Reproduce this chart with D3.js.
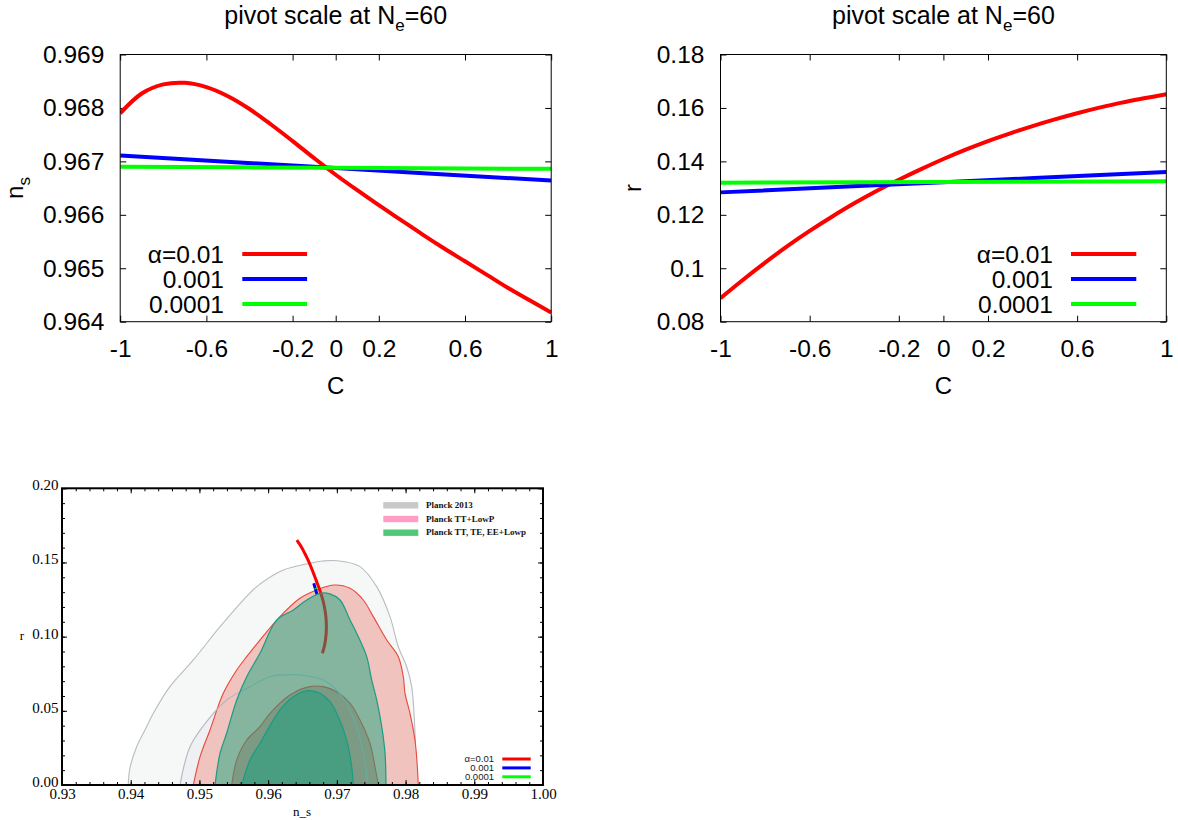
<!DOCTYPE html>
<html><head><meta charset="utf-8">
<script src="https://cdn.jsdelivr.net/npm/d3@7"></script>
<style>body{margin:0;background:#fff}svg{display:block}</style>
</head><body>
<svg id="c" width="1178" height="820"></svg>
<script>
// ---------------- DATA ----------------
const C_VALUES = [-1,-0.9,-0.8,-0.7,-0.6,-0.5,-0.4,-0.3,-0.2,-0.1,0,0.1,0.2,0.3,0.4,0.5,0.6,0.7,0.8,0.9,1];
const NS_ALPHA_001 = [0.96790,0.96827,0.96844,0.96847,0.96839,0.96822,0.96798,0.96769,0.96738,0.96706,0.96675,0.96646,0.96618,0.96591,0.96564,0.96538,0.96513,0.96488,0.96463,0.96440,0.96417];
const R_ALPHA_001 = [0.0888,0.0956,0.1021,0.1083,0.1140,0.1193,0.1243,0.1289,0.1331,0.1371,0.1409,0.1444,0.1476,0.1505,0.1532,0.1557,0.1580,0.1601,0.1620,0.1636,0.1651];
const C_LIN = [-1, 0, 1];
const NS_ALPHA_0001 = [0.96711, 0.966875, 0.96664];
const NS_ALPHA_00001 = [0.96690, 0.96688, 0.96686];
const R_ALPHA_0001 = [0.1284, 0.1322, 0.1360];
const R_ALPHA_00001 = [0.1320, 0.1323, 0.1326];
const SERIES_LABELS = ["\u03b1=0.01", "0.001", "0.0001"];

const C_TICKS = [-1,-0.6,-0.2,0,0.2,0.6,1];
const C_TICK_LABELS = ["-1","-0.6","-0.2","0","0.2","0.6","1"];
const NS_TICKS = [0.964,0.965,0.966,0.967,0.968,0.969];
const NS_TICK_LABELS = ["0.964","0.965","0.966","0.967","0.968","0.969"];
const R_TICKS = [0.08,0.10,0.12,0.14,0.16,0.18];
const R_TICK_LABELS = ["0.08","0.1","0.12","0.14","0.16","0.18"];

// Planck contours (n_s, r)
const PLANCK13_95 = [[0.93964,0],[0.93989,0.0115],[0.94087,0.0258],[0.94208,0.0371],[0.94329,0.0483],[0.94570,0.0663],[0.94911,0.0843],[0.95300,0.1067],[0.95638,0.1247],[0.95834,0.1337],[0.96221,0.1449],[0.96609,0.1495],[0.96800,0.1510],[0.96998,0.1512],[0.97337,0.1472],[0.97580,0.1337],[0.97773,0.1135],[0.97894,0.0932],[0.98016,0.0797],[0.98089,0.0663],[0.98137,0.0349],[0.98152,0]];
const PLANCK13_68 = [[0.94717,0],[0.94863,0.0258],[0.95105,0.0427],[0.95396,0.0573],[0.95736,0.0663],[0.96027,0.0730],[0.96318,0.0744],[0.96561,0.0735],[0.96803,0.0708],[0.96997,0.0640],[0.97143,0.0551],[0.97288,0.0393],[0.97385,0.0214],[0.97457,0]];
const TTLOWP_95 = [[0.94911,0],[0.95009,0.0191],[0.95154,0.0371],[0.95347,0.0618],[0.95543,0.0775],[0.95688,0.0865],[0.95881,0.0977],[0.96172,0.1135],[0.96463,0.1259],[0.96707,0.1315],[0.96963,0.1348],[0.97192,0.1326],[0.97385,0.1247],[0.97530,0.1135],[0.97726,0.0977],[0.97894,0.0865],[0.97967,0.0730],[0.97992,0.0618],[0.98064,0.0483],[0.98137,0.0303],[0.98171,0.0123],[0.98185,0]];
const TTLOWP_68 = [[0.95470,0],[0.95543,0.0169],[0.95688,0.0303],[0.95881,0.0393],[0.96027,0.0483],[0.96318,0.0607],[0.96609,0.0663],[0.96803,0.0663],[0.96997,0.0629],[0.97192,0.0551],[0.97337,0.0438],[0.97483,0.0281],[0.97555,0.0123],[0.97603,0]];
const TTTEEE_95 = [[0.95227,0],[0.95300,0.0214],[0.95396,0.0349],[0.95543,0.0573],[0.95688,0.0730],[0.95881,0.0888],[0.96125,0.1112],[0.96367,0.1180],[0.96561,0.1247],[0.96754,0.1292],[0.96900,0.1288],[0.97046,0.1247],[0.97192,0.1112],[0.97288,0.1023],[0.97434,0.0865],[0.97507,0.0708],[0.97580,0.0573],[0.97653,0.0393],[0.97701,0.0214],[0.97715,0]];
const TTTEEE_68 = [[0.95616,0],[0.95736,0.0169],[0.95881,0.0281],[0.96172,0.0506],[0.96367,0.0595],[0.96585,0.0636],[0.96754,0.0618],[0.96900,0.0562],[0.97021,0.0460],[0.97143,0.0303],[0.97216,0.0123],[0.97239,0]];
const CONTOUR_LABELS = ["Planck 2013", "Planck TT+LowP", "Planck TT, TE, EE+Lowp"];

const NSB_TICKS = [0.93,0.94,0.95,0.96,0.97,0.98,0.99,1.00];
const NSB_TICK_LABELS = ["0.93","0.94","0.95","0.96","0.97","0.98","0.99","1.00"];
const RB_TICKS = [0,0.05,0.10,0.15,0.20];
const RB_TICK_LABELS = ["0.00","0.05","0.10","0.15","0.20"];

// ---------------- STYLE ----------------
const LINE_COLORS = ["#ff0000", "#0000ff", "#00ff00"];
const SWATCH_COLORS = ["#c8c8c8", "#ff9ec2", "#50c878"];
const SANS = "'Liberation Sans', Arial, Helvetica, sans-serif";
const SERIF = "'Liberation Serif', 'Times New Roman', serif";

const svg = d3.select("#c");
svg.append("rect").attr("width",1178).attr("height",820).attr("fill","#fff");
const defs = svg.append("defs");

function styleAxis(sel, size, fam) {
  sel.select(".domain").remove();
  sel.selectAll(".tick line").attr("stroke","#000").attr("stroke-width",1);
  sel.selectAll(".tick text").attr("font-size",size).attr("font-family",fam).attr("fill","#000");
  sel.attr("font-size",null).attr("font-family",null);
}

function drawTop(o) {
  const g = svg.append("g");
  const x = d3.scaleLinear().domain([-1,1]).range([o.left,o.right]);
  const y = d3.scaleLinear().domain(o.yDomain).range([o.bottom,o.top]);
  defs.append("clipPath").attr("id",o.id).append("rect")
    .attr("x",o.left).attr("y",o.top).attr("width",o.right-o.left).attr("height",o.bottom-o.top);
  const FS = 24.5;

  g.append("g").attr("transform",`translate(0,${o.bottom})`)
    .call(d3.axisBottom(x).tickValues(C_TICKS).tickFormat((d,i)=>C_TICK_LABELS[i]).tickSizeInner(-6).tickSizeOuter(0).tickPadding(17.5))
    .call(s=>styleAxis(s,FS,SANS));
  g.append("g").attr("transform",`translate(0,${o.top})`)
    .call(d3.axisTop(x).tickValues(C_TICKS).tickFormat("").tickSizeInner(-6).tickSizeOuter(0))
    .call(s=>styleAxis(s,FS,SANS));
  g.append("g").attr("transform",`translate(${o.left},0)`)
    .call(d3.axisLeft(y).tickValues(o.yTicks).tickFormat((d,i)=>o.yLabels[i]).tickSizeInner(-6).tickSizeOuter(0).tickPadding(o.yPad))
    .call(s=>styleAxis(s,FS,SANS));
  g.append("g").attr("transform",`translate(${o.right},0)`)
    .call(d3.axisRight(y).tickValues(o.yTicks).tickFormat("").tickSizeInner(-6).tickSizeOuter(0))
    .call(s=>styleAxis(s,FS,SANS));

  const line = d3.line().x(d=>x(d[0])).y(d=>y(d[1])).curve(d3.curveCatmullRom);
  o.series.forEach((s,i)=>{
    g.append("path").datum(d3.zip(s.c,s.v)).attr("d",line)
      .attr("fill","none").attr("stroke",LINE_COLORS[i]).attr("stroke-width",4)
      .attr("clip-path",`url(#${o.id})`);
  });

  g.append("rect").attr("x",o.left).attr("y",o.top).attr("width",o.right-o.left).attr("height",o.bottom-o.top)
    .attr("fill","none").attr("stroke","#000").attr("stroke-width",1);

  // legend
  SERIES_LABELS.forEach((lab,i)=>{
    const yy = o.legY + i*25;
    g.append("text").attr("x",o.legTextX).attr("y",yy+8.8).attr("text-anchor","end")
      .attr("font-family",SANS).attr("font-size",FS).text(lab);
    g.append("line").attr("x1",o.legX1).attr("x2",o.legX2).attr("y1",yy).attr("y2",yy)
      .attr("stroke",LINE_COLORS[i]).attr("stroke-width",4);
  });

  // title
  const cx = (o.left+o.right)/2;
  const t = g.append("text").attr("x",cx).attr("y",24).attr("text-anchor","middle")
    .attr("font-family",SANS).attr("font-size",25);
  t.append("tspan").text("pivot scale at N");
  t.append("tspan").attr("font-size",17).attr("dy",7).text("e");
  t.append("tspan").attr("dy",-7).text("=60");

  // x label
  g.append("text").attr("x",cx).attr("y",393.5).attr("text-anchor","middle")
    .attr("font-family",SANS).attr("font-size",24).text("C");
  // y label
  const yl = g.append("text").attr("transform",`translate(${o.yLabX},188) rotate(-90)`)
    .attr("text-anchor","middle").attr("font-family",SANS).attr("font-size",24);
  yl.append("tspan").text(o.yName);
  if (o.ySub) yl.append("tspan").attr("font-size",17).attr("dy",7).text(o.ySub);
}

drawTop({id:"clipA", left:120.2, right:551.2, top:54.5, bottom:321.7,
  yDomain:[0.964,0.969], yTicks:NS_TICKS, yLabels:NS_TICK_LABELS, yPad:15.9,
  series:[{c:C_VALUES,v:NS_ALPHA_001},{c:C_LIN,v:NS_ALPHA_0001},{c:C_LIN,v:NS_ALPHA_00001}],
  legY:254, legTextX:224, legX1:242.3, legX2:307.1, yLabX:23, yName:"n", ySub:"s"});

drawTop({id:"clipB", left:720.5, right:1166.3, top:54.5, bottom:321.7,
  yDomain:[0.08,0.18], yTicks:R_TICKS, yLabels:R_TICK_LABELS, yPad:16.1,
  series:[{c:C_VALUES,v:R_ALPHA_001},{c:C_LIN,v:R_ALPHA_0001},{c:C_LIN,v:R_ALPHA_00001}],
  legY:254, legTextX:1053, legX1:1071, legX2:1136.3, yLabX:640.5, yName:"r", ySub:null});

// ---------------- bottom panel ----------------
(function(){
  const L=62, R=543, T=488.3, B=785;
  const x = d3.scaleLinear().domain([0.93,1.00]).range([L,R]);
  const y = d3.scaleLinear().domain([0,0.20]).range([B,T]);
  const g = svg.append("g");
  defs.append("clipPath").attr("id","clipC").append("rect").attr("x",L).attr("y",T).attr("width",R-L).attr("height",B-T);
  const pg = g.append("g").attr("clip-path","url(#clipC)");
  const cl = d3.line().x(d=>x(d[0])).y(d=>y(d[1])).curve(d3.curveCatmullRom);
  const closed = d => cl(d) + "Z";

  pg.append("path").attr("d",closed(PLANCK13_95)).attr("fill","#f6f7f7").attr("stroke","#b7bcc2").attr("stroke-width",1.1);
  pg.append("path").attr("d",closed(PLANCK13_68)).attr("fill","#eff0f4").attr("stroke","none");
  pg.append("path").attr("d",closed(TTLOWP_95)).attr("fill","#f1c3be").attr("stroke","#e8473b").attr("stroke-width",1.1);
  pg.append("path").attr("d",closed(TTLOWP_68)).attr("fill","#e0928b").attr("stroke","#e8473b").attr("stroke-width",1.1);
  pg.append("path").attr("d",closed(PLANCK13_68)).attr("fill","none").attr("stroke","#b4b8be").attr("stroke-width",1.1);

  // model tracks in the (n_s, r) plane, from the same series as the upper panels
  const tracks = [
    d3.zip(NS_ALPHA_001, R_ALPHA_001),
    d3.zip(NS_ALPHA_0001, R_ALPHA_0001),
    d3.zip(NS_ALPHA_00001, R_ALPHA_00001)
  ];
  const tl = d3.line().x(d=>x(d[0])).y(d=>y(d[1])).curve(d3.curveCatmullRom);
  tracks.forEach((tr,i)=>{
    pg.append("path").attr("d",tl(tr)).attr("fill","none").attr("stroke",LINE_COLORS[i]).attr("stroke-width",3);
  });

  pg.append("path").attr("d",closed(TTTEEE_95)).attr("fill","#0aa37e").attr("fill-opacity",0.47).attr("stroke","#1a9c82").attr("stroke-width",1.2);
  pg.append("path").attr("d",closed(TTTEEE_68)).attr("fill","#0aa37e").attr("fill-opacity",0.45).attr("stroke","#1a9c82").attr("stroke-width",1.2);

  // axes
  const minorX = x.ticks(35), minorY = y.ticks(20);
  g.append("g").attr("transform",`translate(0,${B})`)
    .call(d3.axisBottom(x).tickValues(minorX).tickFormat("").tickSizeInner(-3).tickSizeOuter(0)).call(s=>styleAxis(s,15,SERIF));
  g.append("g").attr("transform",`translate(0,${T})`)
    .call(d3.axisTop(x).tickValues(minorX).tickFormat("").tickSizeInner(-3).tickSizeOuter(0)).call(s=>styleAxis(s,15,SERIF));
  g.append("g").attr("transform",`translate(${L},0)`)
    .call(d3.axisLeft(y).tickValues(minorY).tickFormat("").tickSizeInner(-3).tickSizeOuter(0)).call(s=>styleAxis(s,15,SERIF));
  g.append("g").attr("transform",`translate(${R},0)`)
    .call(d3.axisRight(y).tickValues(minorY).tickFormat("").tickSizeInner(-3).tickSizeOuter(0)).call(s=>styleAxis(s,15,SERIF));

  g.append("g").attr("transform",`translate(0,${B})`)
    .call(d3.axisBottom(x).tickValues(NSB_TICKS).tickFormat((d,i)=>NSB_TICK_LABELS[i]).tickSizeInner(-5).tickSizeOuter(0).tickPadding(3)).call(s=>styleAxis(s,15,SERIF));
  g.append("g").attr("transform",`translate(0,${T})`)
    .call(d3.axisTop(x).tickValues(NSB_TICKS).tickFormat("").tickSizeInner(-5).tickSizeOuter(0)).call(s=>styleAxis(s,15,SERIF));
  g.append("g").attr("transform",`translate(${L},0)`)
    .call(d3.axisLeft(y).tickValues(RB_TICKS).tickFormat((d,i)=>RB_TICK_LABELS[i]).tickSizeInner(-5).tickSizeOuter(0).tickPadding(3.5))
    .call(s=>styleAxis(s,15,SERIF))
    .call(s=>s.selectAll(".tick text").attr("dy","0.1em"));
  g.append("g").attr("transform",`translate(${R},0)`)
    .call(d3.axisRight(y).tickValues(RB_TICKS).tickFormat("").tickSizeInner(-5).tickSizeOuter(0)).call(s=>styleAxis(s,15,SERIF));

  g.append("rect").attr("x",L).attr("y",T).attr("width",R-L).attr("height",B-T)
    .attr("fill","none").attr("stroke","#000").attr("stroke-width",2);

  // contour legend
  CONTOUR_LABELS.forEach((lab,i)=>{
    const yy = 505.3 + i*13.7;
    g.append("rect").attr("x",383.3).attr("y",yy-3.2).attr("width",35).attr("height",6.4).attr("fill",SWATCH_COLORS[i]);
    g.append("text").attr("x",426).attr("y",yy+2.5).attr("font-family",SERIF).attr("font-weight","bold")
      .attr("font-size",9).attr("fill","#111").text(lab);
  });
  // line legend
  SERIES_LABELS.forEach((lab,i)=>{
    const yy = 759 + i*8.9;
    g.append("text").attr("x",494).attr("y",yy+3.4).attr("text-anchor","end").attr("font-family",SANS)
      .attr("font-size",9.5).attr("fill","#222").text(lab);
    g.append("line").attr("x1",502.3).attr("x2",530.7).attr("y1",yy).attr("y2",yy)
      .attr("stroke",LINE_COLORS[i]).attr("stroke-width",3);
  });

  g.append("text").attr("x",302).attr("y",816).attr("text-anchor","middle").attr("font-family",SERIF)
    .attr("font-size",13).text("n_s");
  g.append("text").attr("x",22).attr("y",640).attr("text-anchor","middle").attr("font-family",SERIF)
    .attr("font-size",13).text("r");
})();
</script>
</body></html>
